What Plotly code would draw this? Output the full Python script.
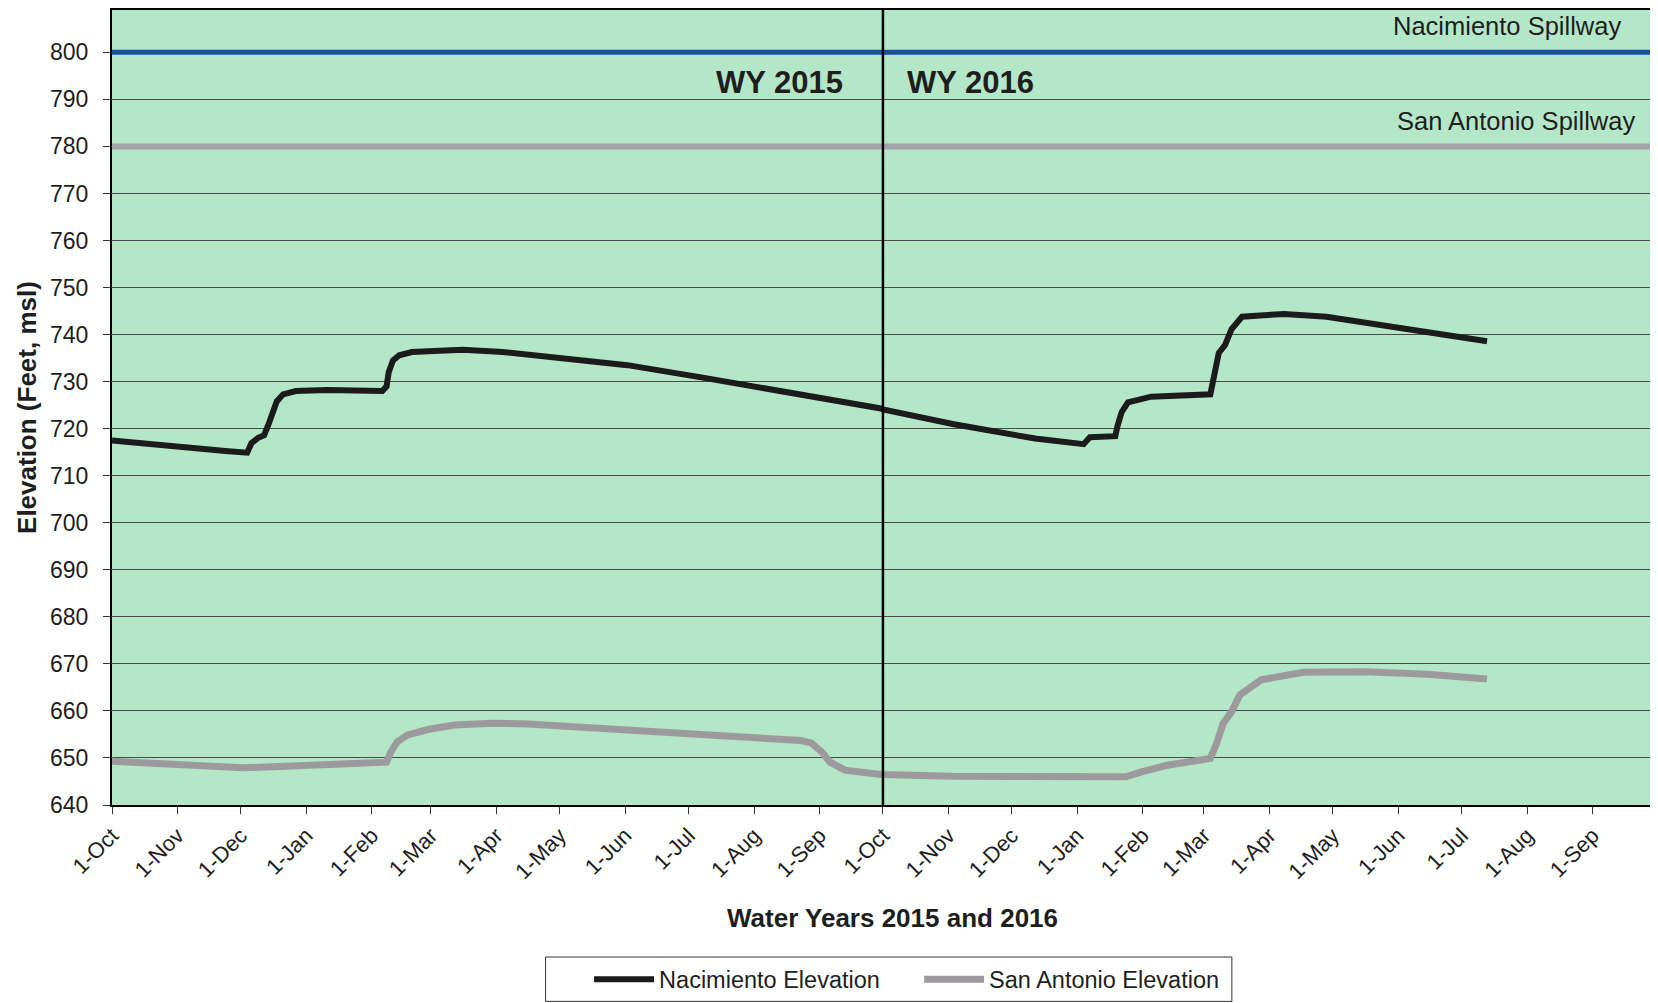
import plotly.graph_objects as go
import pandas as pd

# ---- data ----
nac_dates = ["2014-10-01", "2014-10-20", "2014-11-05", "2014-11-25", "2014-12-04", "2014-12-06",
             "2014-12-09", "2014-12-12", "2014-12-14", "2014-12-16", "2014-12-18", "2014-12-21",
             "2014-12-27", "2015-01-11", "2015-02-06", "2015-02-08", "2015-02-09", "2015-02-11",
             "2015-02-14", "2015-02-20", "2015-03-01", "2015-03-16", "2015-04-04", "2015-05-09",
             "2015-06-02", "2015-07-07", "2015-08-12", "2015-09-30", "2015-10-01", "2015-11-03",
             "2015-12-12", "2016-01-04", "2016-01-07", "2016-01-19", "2016-01-20", "2016-01-22",
             "2016-01-25", "2016-02-05", "2016-03-04", "2016-03-06", "2016-03-08", "2016-03-11",
             "2016-03-14", "2016-03-19", "2016-04-08", "2016-04-28", "2016-05-27", "2016-06-25",
             "2016-07-13"]
nac_elev = [717.5, 716.6, 715.9, 715.2, 714.9, 716.9,
            718.0, 718.6, 720.8, 723.5, 725.8, 727.3,
            728.0, 728.2, 728.0, 729.0, 732.0, 734.5,
            735.6, 736.3, 736.6, 736.8, 736.3, 734.8,
            733.5, 730.9, 728.2, 724.3, 724.1, 721.0,
            717.9, 716.7, 718.2, 718.4, 720.5, 723.5,
            725.6, 726.8, 727.3, 731.2, 736.1, 737.8,
            741.1, 743.8, 744.4, 743.8, 741.9, 739.8,
            738.6]

sa_dates = ["2014-10-01", "2014-11-02", "2014-12-02", "2014-12-31", "2015-02-08", "2015-02-10",
            "2015-02-13", "2015-02-18", "2015-02-28", "2015-03-12", "2015-03-30", "2015-04-16",
            "2015-05-21", "2015-07-07", "2015-08-23", "2015-08-28", "2015-09-02", "2015-09-06",
            "2015-09-13", "2015-09-30", "2015-11-03", "2015-12-12", "2016-01-24", "2016-01-31",
            "2016-02-12", "2016-03-04", "2016-03-07", "2016-03-10", "2016-03-14", "2016-03-18",
            "2016-03-28", "2016-04-17", "2016-05-16", "2016-06-15", "2016-07-13"]
sa_elev = [649.3, 648.5, 647.9, 648.4, 649.1, 651.3,
           653.4, 654.9, 656.1, 657.0, 657.4, 657.2,
           656.4, 655.0, 653.7, 653.2, 651.3, 649.1,
           647.4, 646.5, 646.1, 646.0, 646.0, 647.0,
           648.4, 649.9, 653.1, 657.3, 659.8, 663.4,
           666.6, 668.2, 668.3, 667.8, 666.8]

spill_dates = ["2014-10-01", "2016-10-01"]
nac_spillway = [800, 800]
sa_spillway = [780, 780]

wy_boundary = "2015-10-01"
x_start, x_end = "2014-10-01", "2016-10-01"

tick_vals = [d.strftime("%Y-%m-%d") for d in pd.date_range("2014-10-01", "2016-09-01", freq="MS")]
tick_text = ["1-Oct", "1-Nov", "1-Dec", "1-Jan", "1-Feb", "1-Mar", "1-Apr", "1-May", "1-Jun",
             "1-Jul", "1-Aug", "1-Sep"] * 2
y_ticks = list(range(640, 801, 10))

FONT = "Liberation Sans, Arial, sans-serif"
BG = "#b4e7c8"
TXT = "#1e1e1e"

fig = go.Figure()

fig.add_trace(go.Scatter(x=spill_dates, y=nac_spillway, mode="lines",
                         line=dict(color="#1b4f9f", width=5), showlegend=False, hoverinfo="skip"))
fig.add_trace(go.Scatter(x=spill_dates, y=sa_spillway, mode="lines",
                         line=dict(color="#a7a3aa", width=6), showlegend=False, hoverinfo="skip"))
fig.add_trace(go.Scatter(x=nac_dates, y=nac_elev, mode="lines", name="Nacimiento Elevation",
                         line=dict(color="#1b1b1b", width=6)))
fig.add_trace(go.Scatter(x=sa_dates, y=sa_elev, mode="lines", name="San Antonio Elevation",
                         line=dict(color="#9d9a9e", width=7)))

fig.add_shape(type="line", xref="x", yref="paper", x0=wy_boundary, x1=wy_boundary, y0=0, y1=1,
              line=dict(color="black", width=2.5))
# legend frame
fig.add_shape(type="rect", xref="paper", yref="paper", x0=0.2808, x1=0.7253, y0=-0.1912, y1=-0.2470,
              line=dict(color="#333", width=1), fillcolor="white", layer="below")

annots = [
    dict(x=wy_boundary, y=793.6, text="<b>WY 2015</b>", xanchor="right", xshift=-38,
         font=dict(size=31, color=TXT)),
    dict(x=wy_boundary, y=793.6, text="<b>WY 2016</b>", xanchor="left", xshift=22,
         font=dict(size=31, color=TXT)),
    dict(x=1.0, xref="paper", y=805.5, text="Nacimiento Spillway", xanchor="right", xshift=-33,
         font=dict(size=25.5, color=TXT)),
    dict(x=1.0, xref="paper", y=785.3, text="San Antonio Spillway", xanchor="right", xshift=-19,
         font=dict(size=25.5, color=TXT)),
    dict(x=0.5, xref="paper", y=-0.142, yref="paper", text="<b>Water Years 2015 and 2016</b>",
         xanchor="center", yanchor="middle", xshift=8, font=dict(size=26, color=TXT)),
    dict(x=-0.0554, xref="paper", y=0.5, yref="paper", text="<b>Elevation (Feet, msl)</b>",
         textangle=-90, xanchor="center", yanchor="middle", font=dict(size=26, color=TXT)),
]
for a in annots:
    a.setdefault("showarrow", False)
    a.setdefault("xref", "x")
    a.setdefault("yref", "y")
    fig.add_annotation(**a)

# page body has an 8px margin: the figure is sized to fit the window exactly
fig.update_layout(
    width=1650, height=995,
    margin=dict(l=104, r=2, t=2, b=198, autoexpand=False),
    paper_bgcolor="white",
    plot_bgcolor=BG,
    font=dict(family=FONT, size=22, color=TXT),
    showlegend=True,
    legend=dict(orientation="h", x=0.309, xanchor="left", y=-0.2195, yanchor="middle",
                borderwidth=0, bgcolor="rgba(0,0,0,0)",
                font=dict(size=23.5, color=TXT), itemwidth=60, entrywidth=255, tracegroupgap=0),
    xaxis=dict(type="date", range=[x_start, x_end], tickvals=tick_vals, ticktext=tick_text,
               tickangle=-45, showgrid=False, ticks="outside", ticklen=7, tickcolor="#333",
               showline=True, linecolor="black", linewidth=2, mirror=True, automargin=False,
               tickfont=dict(size=22), zeroline=False),
    yaxis=dict(range=[640, 809], tickvals=y_ticks, showgrid=True, gridcolor="#4a4a4a",
               gridwidth=1.2, ticks="outside", ticklen=7, tickcolor="#333",
               showline=True, linecolor="black", linewidth=2, mirror=True, automargin=False,
               ticklabelstandoff=10, tickfont=dict(size=23), zeroline=False),
)

fig.write_html("out.html")
